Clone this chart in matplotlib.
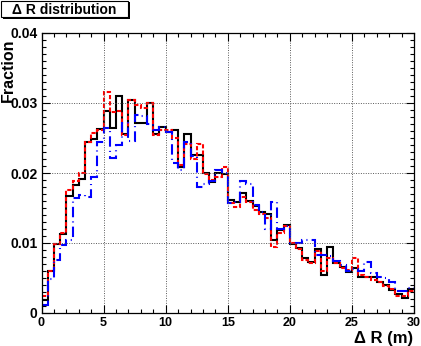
import numpy as np
import matplotlib
matplotlib.use("Agg")
import matplotlib.pyplot as plt
from matplotlib.patches import Rectangle
from matplotlib.ticker import MultipleLocator, FuncFormatter

plt.rcParams['font.family'] = ['Liberation Sans', 'DejaVu Sans']

# bin edges: 60 bins of 0.5 m between 0 and 30
edges = np.linspace(0, 30, 61)

black = [0.0019, 0.0060, 0.0098, 0.0113, 0.0167, 0.0183, 0.0192, 0.0244, 0.0249, 0.0263,
         0.0289, 0.0264, 0.0310, 0.0256, 0.0304, 0.0272, 0.0272, 0.0300, 0.0256, 0.0266,
         0.0258, 0.0262, 0.0208, 0.0256, 0.0226, 0.0226, 0.0200, 0.0187, 0.0200, 0.0199,
         0.0161, 0.0158, 0.0171, 0.0160, 0.0153, 0.0145, 0.0141, 0.0104, 0.0119, 0.0126,
         0.0099, 0.0093, 0.0079, 0.0073, 0.0091, 0.0054, 0.0095, 0.0071, 0.0066, 0.0059,
         0.0065, 0.0051, 0.0051, 0.0052, 0.0045, 0.0040, 0.0033, 0.0027, 0.0022, 0.0034]

red = [0.0024, 0.0060, 0.0098, 0.0114, 0.0176, 0.0188, 0.0200, 0.0244, 0.0257, 0.0262,
       0.0316, 0.0287, 0.0288, 0.0254, 0.0304, 0.0297, 0.0293, 0.0300, 0.0255, 0.0262,
       0.0261, 0.0250, 0.0211, 0.0242, 0.0220, 0.0241, 0.0198, 0.0190, 0.0195, 0.0208,
       0.0157, 0.0152, 0.0166, 0.0158, 0.0147, 0.0141, 0.0136, 0.0095, 0.0115, 0.0124,
       0.0100, 0.0091, 0.0076, 0.0072, 0.0088, 0.0060, 0.0078, 0.0072, 0.0064, 0.0062,
       0.0079, 0.0054, 0.0051, 0.0047, 0.0045, 0.0039, 0.0035, 0.0025, 0.0025, 0.0031]

blue = [0.0011, 0.0048, 0.0076, 0.0097, 0.0105, 0.0165, 0.0168, 0.0166, 0.0195, 0.0245,
        0.0264, 0.0222, 0.0240, 0.0271, 0.0246, 0.0283, 0.0281, 0.0270, 0.0262, 0.0266,
        0.0258, 0.0215, 0.0204, 0.0245, 0.0225, 0.0180, 0.0185, 0.0188, 0.0204, 0.0200,
        0.0157, 0.0158, 0.0189, 0.0185, 0.0155, 0.0145, 0.0120, 0.0158, 0.0120, 0.0125,
        0.0100, 0.0100, 0.0104, 0.0105, 0.0083, 0.0083, 0.0082, 0.0075, 0.0068, 0.0060,
        0.0063, 0.0060, 0.0073, 0.0057, 0.0052, 0.0050, 0.0045, 0.0031, 0.0031, 0.0036]

title = "\u0394 R distribution"
xlabel = "\u0394 R (m)"
ylabel = "Fraction"

W, H = 421, 346
fig = plt.figure(figsize=(W / 100, H / 100), dpi=100)
ax = fig.add_axes([41.5 / W, 1 - 313 / H, (414 - 41.5) / W, 280 / H])

ax.stairs(black, edges, color='black', lw=1.5, baseline=None)
ax.stairs(red, edges, color='#ff0000', lw=1.5, linestyle=(0, (2, 1)), baseline=None)
ax.stairs(blue, edges, color='#0000ff', lw=1.5, linestyle=(0, (5, 2, 0.5, 2)), baseline=None)

ax.set_xlim(0, 30)
ax.set_ylim(0, 0.04)
ax.xaxis.set_major_locator(MultipleLocator(5))
ax.xaxis.set_minor_locator(MultipleLocator(1))
ax.yaxis.set_major_locator(MultipleLocator(0.01))
ax.yaxis.set_minor_locator(MultipleLocator(0.001))
ax.yaxis.set_major_formatter(FuncFormatter(lambda v, p: '0' if abs(v) < 1e-9 else f'{v:.2f}'))
ax.tick_params(which='both', direction='in', top=True, right=True, width=0.8)
ax.tick_params(which='major', length=5.8)
ax.tick_params(which='minor', length=2.9)
ax.tick_params(axis='x', pad=3, labelsize=9)
ax.tick_params(axis='y', pad=3, labelsize=10)
for lab in ax.get_xticklabels() + ax.get_yticklabels():
    lab.set_fontweight('bold')
ax.grid(True, which='major', color='0.35', lw=0.7, linestyle=(0, (1, 1.5)))
for s in ax.spines.values():
    s.set_linewidth(0.9)

fig.text(8.5 / W, 1 - 38 / H, ylabel, rotation=90, ha='center', va='top',
         fontsize=11.5, fontweight='bold')
fig.text(413 / W, 1 - 338 / H, xlabel, ha='right', va='center',
         fontsize=12, fontweight='bold')

# title pave with shadow
fig.patches.append(Rectangle((3 / W, 1 - 19 / H), 127 / W, 17 / H, transform=fig.transFigure,
                             fc='black', ec='none'))
fig.patches.append(Rectangle((1 / W, 1 - 17 / H), 127 / W, 16 / H, transform=fig.transFigure,
                             fc='white', ec='black', lw=0.8))
fig.text(64.5 / W, 1 - 9.5 / H, title, ha='center', va='center', fontsize=10, fontweight='bold')

fig.savefig('out.png', dpi=100)
